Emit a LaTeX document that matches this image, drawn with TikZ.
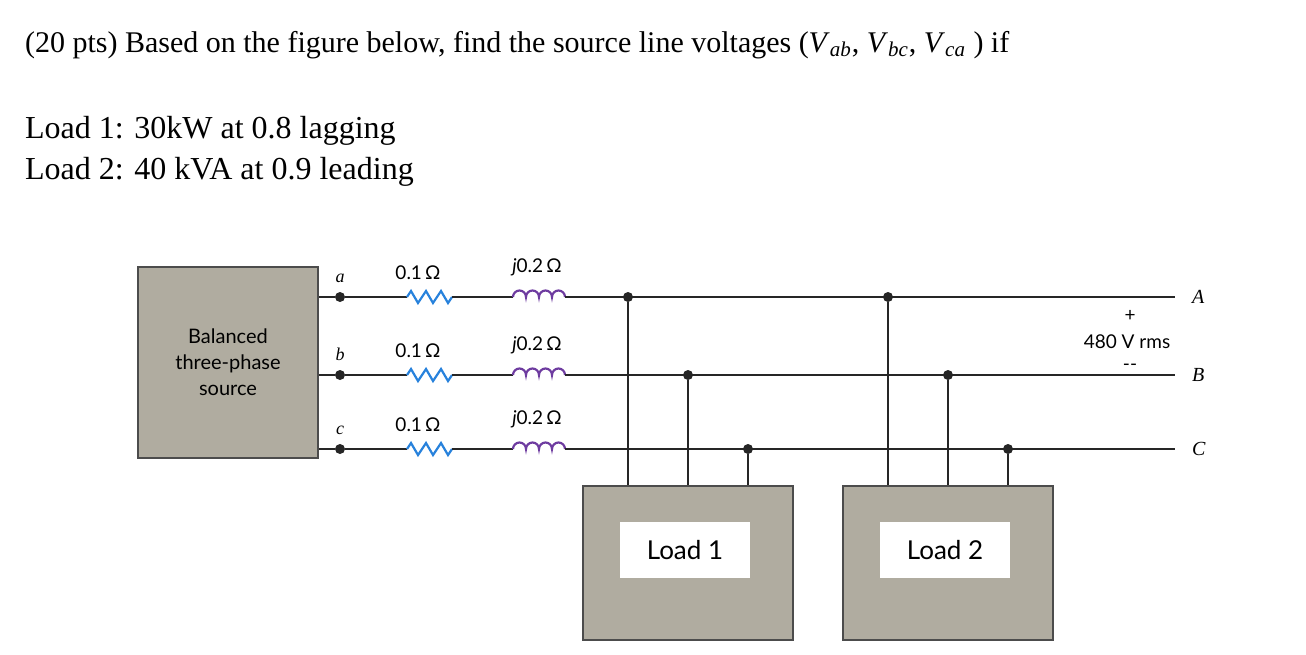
\documentclass[tikz,border=0pt]{standalone}
\usepackage{fontspec}
\setmainfont{Liberation Serif}
\newfontfamily\circfont{Lato}
\usetikzlibrary{positioning}
\definecolor{boxgray}{RGB}{176,172,160}
\definecolor{resblue}{RGB}{40,130,220}
\definecolor{indpurple}{RGB}{110,60,160}
\begin{document}
\begin{tikzpicture}[x=0.5pt, y=-0.5pt, >=latex]

\tikzset{wire/.style={line width=1.4pt, black!85},
  dot/.style={circle, fill=black!85, inner sep=0pt, minimum size=5pt},
  srcbox/.style={draw=black!70, fill=boxgray, line width=0.8pt},
  loadtext/.style={fill=white, minimum width=65pt, minimum height=28pt, font=\circfont\fontsize{13}{15}\selectfont},
  val/.style={font=\circfont\fontsize{9.5}{11}\selectfont},
  term/.style={font=\itshape\fontsize{9}{10}\selectfont}}
\useasboundingbox (0,0) rectangle (1306,654);

% Problem text
\node[anchor=base west, font=\fontsize{15}{18}\selectfont] (q) at (18,52) {(20 pts) Based on the figure below, find the source line voltages (\textit{V}\textsubscript{\textit{ab}}, \textit{V}\textsubscript{\textit{bc}}, \textit{V}\textsubscript{\textit{ca}} ) if};
\node[anchor=base west, font=\fontsize{16}{19}\selectfont] (l1) at (18,138) {Load 1: 30kW at 0.8 lagging};
\node[anchor=base west, font=\fontsize{16}{19}\selectfont] (l2) at (18,179) {Load 2: 40 kVA at 0.9 leading};

% Source
\node[srcbox, minimum width=90pt, minimum height=95.5pt, align=center, font=\circfont\fontsize{10}{13}\selectfont] (src) at (228,362.5) {Balanced\\three-phase\\source};

% Lines a, b, c
\foreach \ph/\y/\PH in {a/297/A, b/375/B, c/449/C} {
  \node[dot] (\ph) at (340,\y) {};
  \node[term, above=1pt of \ph] {\ph};
  \coordinate (r\ph) at (407,\y);
  \coordinate (i\ph) at (513,\y);
  \coordinate (e\ph) at (1175,\y);
  \node[term, right=5pt of e\ph, font=\itshape\fontsize{10}{11}\selectfont] {\PH};
  \draw[wire] (src.east |- \ph) -- (\ph) -- (r\ph);
  \draw[line width=1.1pt, resblue] (r\ph) -- ++(4,-6) -- ++(7,12) -- ++(8,-12) -- ++(7,12) -- ++(8,-12) -- ++(7,12) -- ++(4,-6) coordinate (s\ph);
  \draw[wire] (s\ph) -- (i\ph);
  \draw[line width=1.1pt, indpurple] (i\ph) arc (180:360:6.5) arc (180:360:6.5) arc (180:360:6.5) arc (180:360:6.5) coordinate (t\ph);
  \draw[wire] (t\ph) -- (e\ph);
  \node[val] at (418,\y-24) {0.1\,Ω};
  \node[val] at (537,\y-30) {\textit{j}0.2\,Ω};
}

% Loads
\foreach \n/\x in {1/688, 2/948} {
  \node[srcbox, minimum width=105pt, minimum height=77pt] (load\n) at (\x,563) {};
  \node[loadtext] at (\x-3,550) {Load \n};
  \node[dot] (tA\n) at (\x-60,297) {};
  \node[dot] (tB\n) at (\x,375) {};
  \node[dot] (tC\n) at (\x+60,449) {};
  \draw[wire] (tA\n) -- (tA\n |- load\n.north);
  \draw[wire] (tB\n) -- (tB\n |- load\n.north);
  \draw[wire] (tC\n) -- (tC\n |- load\n.north);
}

% Line voltage
\node[val] (vab) at (1127,342) {480 V rms};
\node[val] at (1130,316) {+};
\node[val] at (1130,367) {--};

\end{tikzpicture}
\end{document}
